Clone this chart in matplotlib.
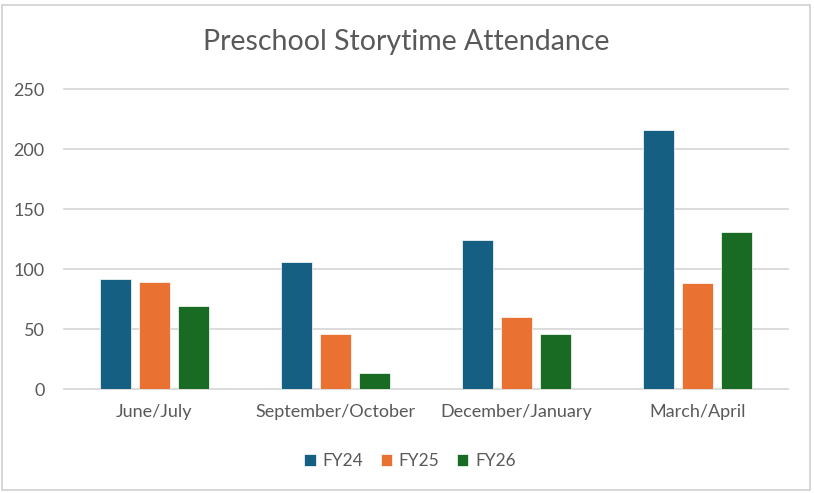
import matplotlib
matplotlib.use('Agg')
import matplotlib.pyplot as plt
from matplotlib.patches import Rectangle
import numpy as np

plt.rcParams['font.family'] = ['Lato', 'DejaVu Sans']

# data
categories = ['June/July', 'September/October', 'December/January', 'March/April']
series_names = ['FY24', 'FY25', 'FY26']
fy24 = [92, 106, 124, 216]
fy25 = [89, 46, 60, 88]
fy26 = [69, 13, 46, 131]
colors = ['#156082', '#E97132', '#196B24']

text_grey = '#595959'
grid_grey = '#D9D9D9'

fig = plt.figure(figsize=(8.14, 4.93), dpi=100)
ax = fig.add_axes([64 / 814, 1 - 389 / 493, (788 - 64) / 814, 300 / 493])

x = np.arange(len(categories))
step = 0.218
width = 0.171
for i, (vals, name) in enumerate(zip([fy24, fy25, fy26], series_names)):
    ax.bar(x + (i - 1) * step, vals, width, color=colors[i], label=name,
           edgecolor='white', linewidth=0.5, zorder=3)

ax.set_xlim(-0.5, len(categories) - 0.5)
ax.set_ylim(0, 250)
ax.set_yticks(np.arange(0, 251, 50))
ax.set_xticks(x)
ax.set_xticklabels(categories)
ax.yaxis.grid(True, color=grid_grey, linewidth=1.3, zorder=0)
for line in ax.get_ygridlines():
    line.set_clip_on(False)
for s in ax.spines.values():
    s.set_visible(False)
ax.tick_params(axis='both', length=0, colors=text_grey)
ax.tick_params(axis='x', pad=11, labelsize=13)
ax.tick_params(axis='y', pad=14, labelsize=13)

fig.text(406 / 814, 1 - 42 / 493, 'Preschool Storytime Attendance',
         ha='center', va='center', fontsize=20.5, color=text_grey)

leg = fig.legend(loc='center', bbox_to_anchor=(410 / 814, 1 - 461 / 493),
                 ncol=3, frameon=False, fontsize=12.5, handlelength=0.65,
                 handleheight=0.65, handletextpad=0.4, columnspacing=1.0)
for t in leg.get_texts():
    t.set_color(text_grey)

# chart area border
fig.patches.append(Rectangle((2 / 814, 3 / 493), 808 / 814, 485 / 493,
                             transform=fig.transFigure, fill=False,
                             edgecolor='#D0D0D0', linewidth=1.2))

fig.savefig('out.png', dpi=100, facecolor='white')
